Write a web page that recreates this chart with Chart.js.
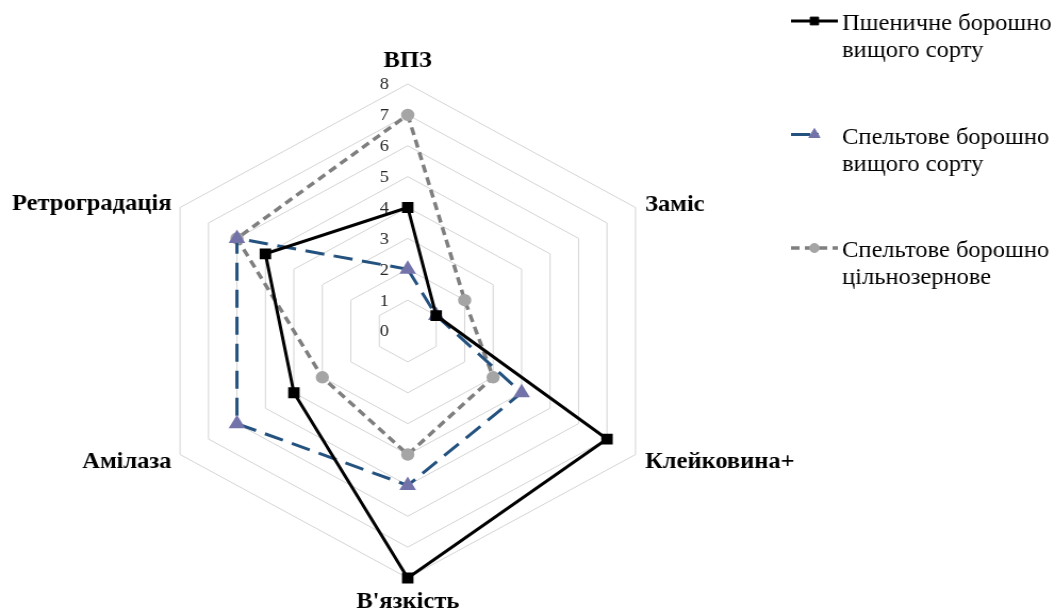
<!DOCTYPE html>
<html lang="uk">
<head>
<meta charset="UTF-8">
<title>Профіль борошна</title>
<script src="https://cdn.jsdelivr.net/npm/chart.js"></script>
<style>
  html, body { margin: 0; padding: 0; background: #fff; overflow: hidden; }
  /* the original picture is a bit wider than it is tall, so stretch it the same way */
  #radar { display: block; transform: scaleX(1.0646); transform-origin: 0 0; }
</style>
</head>
<body>
<canvas id="radar" width="990" height="612"></canvas>
<script>
// axes, clockwise from the top
var axisLabels = ['ВПЗ', 'Заміс', 'Клейковина+', "В'язкість", 'Амілаза', 'Ретроградація'];
var tickLabels = ['0', '1', '2', '3', '4', '5', '6', '7', '8'];

var wheatTop = [4, 1, 7, 8, 4, 5];      // Пшеничне борошно вищого сорту
var speltTop = [2, 1, 4, 5, 6, 6];      // Спельтове борошно вищого сорту
var speltWhole = [7, 2, 3, 4, 3, 6];    // Спельтове борошно цільнозернове

var seriesNames = [
    ['Пшеничне борошно', 'вищого сорту'],
    ['Спельтове борошно', 'вищого сорту'],
    ['Спельтове борошно', 'цільнозернове']
];

var serif = '"Liberation Serif", "Times New Roman", serif';

// draws the axis names, tick numbers and the legend on the right
var extras = {
    id: 'extras',
    beforeDatasetsDraw: function(chart) {
        var ctx = chart.ctx, r = chart.scales.r;
        ctx.save();
        ctx.fillStyle = '#262626';
        ctx.font = '17px ' + serif;
        ctx.textAlign = 'center';
        ctx.textBaseline = 'middle';
        tickLabels.forEach(function(t) {
            var d = r.getDistanceFromCenterForValue(Number(t));
            ctx.fillText(t, r.xCenter - 22, r.yCenter - d + 1);
        });
        ctx.restore();
    },
    afterDraw: function(chart) {
        var ctx = chart.ctx, r = chart.scales.r;
        ctx.save();
        ctx.fillStyle = '#000';
        ctx.font = 'bold 23px ' + serif;
        axisLabels.forEach(function(lab, i) {
            var p = r.getPointPosition(i, r.drawingArea);
            var dx = p.x - r.xCenter, dy = p.y - r.yCenter;
            var x = p.x, y = p.y;
            if (Math.abs(dx) < 2) {
                ctx.textAlign = 'center';
                y = dy < 0 ? y - 17 : y + 30;
            } else if (dx > 0) {
                ctx.textAlign = 'left';
                x += 9;
                y += dy < 0 ? 3 : 13;
            } else {
                ctx.textAlign = 'right';
                x -= 8;
                y += dy < 0 ? 2.5 : 13;
            }
            ctx.textBaseline = 'alphabetic';
            ctx.fillText(lab, x, y);
        });

        // legend
        chart.data.datasets.forEach(function(ds, i) {
            var ly = 21 + i * 113.5;
            ctx.save();
            ctx.strokeStyle = ds.borderColor;
            ctx.lineWidth = ds.borderWidth;
            ctx.setLineDash(ds.legendDash);
            ctx.beginPath();
            ctx.moveTo(743, ly);
            ctx.lineTo(787, ly);
            ctx.stroke();
            ctx.restore();
            if (Chart.helpers && Chart.helpers.drawPoint) {
                ctx.save();
                ctx.fillStyle = ds.pointBackgroundColor;
                ctx.strokeStyle = ds.pointBorderColor;
                ctx.lineWidth = 1;
                Chart.helpers.drawPoint(ctx, {pointStyle: ds.pointStyle, radius: ds.pointRadius, rotation: 0, borderWidth: 1}, 765, ly);
                ctx.restore();
            }
            ctx.fillStyle = '#000';
            ctx.font = '23px ' + serif;
            ctx.textAlign = 'left';
            ctx.textBaseline = 'alphabetic';
            seriesNames[i].forEach(function(line, k) {
                ctx.fillText(line, 791, ly + 9 + k * 27);
            });
        });
        ctx.restore();
    }
};

new Chart(document.getElementById('radar'), {
    type: 'radar',
    data: {
        labels: axisLabels,
        datasets: [{
            label: seriesNames[0].join(' '),
            data: wheatTop,
            borderColor: '#000000',
            borderWidth: 3,
            legendDash: [],
            pointStyle: 'rect',
            pointRadius: 5.5,
            pointBackgroundColor: '#000000',
            pointBorderColor: '#000000',
            fill: false
        }, {
            label: seriesNames[1].join(' '),
            data: speltTop,
            borderColor: '#24527f',
            borderWidth: 3,
            borderDash: [18, 9],
            legendDash: [18, 6, 2, 20],
            pointStyle: 'triangle',
            pointRadius: 6,
            pointBackgroundColor: '#7373aa',
            pointBorderColor: '#7373aa',
            fill: false
        }, {
            label: seriesNames[2].join(' '),
            data: speltWhole,
            borderColor: '#7f7f7f',
            borderWidth: 3.5,
            borderDash: [8, 5],
            legendDash: [8, 5],
            pointStyle: 'circle',
            pointRadius: 4.5,
            pointBackgroundColor: '#a5a5a5',
            pointBorderColor: '#a5a5a5',
            fill: false
        }]
    },
    options: {
        responsive: false,
        animation: false,
        devicePixelRatio: 1,
        layout: { padding: { left: 136, right: 359, top: 84, bottom: 33 } },
        elements: { line: { tension: 0 } },
        plugins: { legend: { display: false }, tooltip: { enabled: false } },
        scales: {
            r: {
                min: 0,
                max: 8,
                ticks: { stepSize: 1, display: false },
                pointLabels: { display: false },
                angleLines: { display: false },
                grid: { color: '#d4d4d4', lineWidth: 1 }
            }
        }
    },
    plugins: [extras]
});
</script>
</body>
</html>
